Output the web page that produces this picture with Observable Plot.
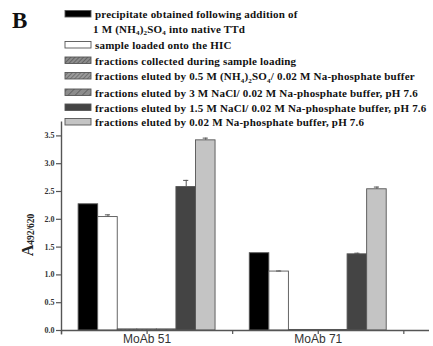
<!DOCTYPE html>
<html>
<head>
<meta charset="utf-8">
<script src="https://cdn.jsdelivr.net/npm/d3@7"></script>
<script src="https://cdn.jsdelivr.net/npm/@observablehq/plot@0.6"></script>
<style>
  html, body { margin: 0; padding: 0; background: #fff; }
  #chart svg { display: block; overflow: visible; }
</style>
</head>
<body>
<div id="chart"></div>
<script>
// ---- data ----
const groups = ["MoAb 51", "MoAb 71"];
const series = [
  "precipitate obtained following addition of 1 M (NH4)2SO4 into native TTd",
  "sample loaded onto the HIC",
  "fractions collected during sample loading",
  "fractions eluted by 0.5 M (NH4)2SO4 / 0.02 M Na-phosphate buffer",
  "fractions eluted by 3 M NaCl/ 0.02 M Na-phosphate buffer, pH 7.6",
  "fractions eluted by 1.5 M NaCl/ 0.02 M Na-phosphate buffer, pH 7.6",
  "fractions eluted by 0.02 M Na-phosphate buffer, pH 7.6"
];
const valuesMoAb51 = [2.27, 2.04, 0.02, 0.02, 0.02, 2.58, 3.42];
const valuesMoAb71 = [1.39, 1.06, 0.01, 0.01, 0.01, 1.37, 2.54];
const errorsMoAb51 = [0, 0.04, 0, 0, 0, 0.12, 0.04];
const errorsMoAb71 = [0, 0.01, 0, 0, 0, 0.02, 0.04];
const yTicks = [0, 0.5, 1.0, 1.5, 2.0, 2.5, 3.0, 3.5];
const xTickPositions = [0, 1, 2, 3, 4];

// ---- styles ----
const seriesFills = ["#000000", "#ffffff", "url(#hatchA)", "url(#hatchB)", "url(#hatchC)", "#444444", "#c4c4c4"];
const serif = "'Liberation Serif', 'DejaVu Serif', serif";

// ---- build table ----
const values = [valuesMoAb51, valuesMoAb71];
const errors = [errorsMoAb51, errorsMoAb71];
const groupWidth = 1.6;
const barW = groupWidth / series.length;
const records = [];
groups.forEach((g, gi) => {
  const center = 1 + 2 * gi;
  series.forEach((s, si) => {
    const x1 = center - groupWidth / 2 + si * barW;
    records.push({group: g, series: s, si, value: values[gi][si], err: errors[gi][si], x1, x2: x1 + barW, xm: x1 + barW / 2});
  });
});
const errRecords = records.filter(d => d.err > 0);

const plot = Plot.plot({
  width: 433,
  height: 346,
  marginLeft: 61,
  marginRight: 4,
  marginTop: 121.5,
  marginBottom: 16,
  style: {fontFamily: serif, background: "#fff", color: "#222"},
  x: {type: "linear", domain: [0, 4.3], axis: null},
  y: {domain: [0, 3.75], axis: null},
  color: {domain: series, range: seriesFills},
  marks: [
    Plot.rectY(records, {x1: "x1", x2: "x2", y1: 0, y2: "value", fill: "series", stroke: "#555", strokeWidth: 0.9}),
    Plot.ruleX(errRecords, {x: "xm", y1: "value", y2: d => d.value + d.err, stroke: "#555", strokeWidth: 1}),
    Plot.ruleY(errRecords, {y: d => d.value + d.err, x1: d => d.xm - 0.03, x2: d => d.xm + 0.03, stroke: "#555", strokeWidth: 1}),
    Plot.ruleY([0], {x1: 0, x2: 4.3, stroke: "#555", strokeWidth: 1.4}),
    Plot.ruleX([0], {y1: -0.08, y2: 3.75, stroke: "#555", strokeWidth: 1.4}),
    Plot.axisY({ticks: yTicks, tickFormat: d => d.toFixed(1), tickSize: 5, tickPadding: 2, label: null,
      fontSize: 8, fontWeight: "bold", fontFamily: serif, stroke: "#555", strokeWidth: 1.2, fill: "#333"}),
    Plot.axisX({ticks: xTickPositions, tickFormat: d => d === 1 ? groups[0] : d === 3 ? groups[1] : "",
      tickSize: 4, tickPadding: 0, label: null, fontSize: 12, fontFamily: "'Liberation Sans', Arial, sans-serif",
      stroke: "#555", strokeWidth: 1.2, fill: "#333"})
  ]
});

document.getElementById("chart").appendChild(plot);

// ---- patterns ----
const svg = d3.select(plot);
const defs = svg.insert("defs", ":first-child");
function hatch(id, spacing, bg, line) {
  const p = defs.append("pattern").attr("id", id).attr("patternUnits", "userSpaceOnUse")
    .attr("width", spacing).attr("height", spacing).attr("patternTransform", "rotate(45)");
  p.append("rect").attr("width", spacing).attr("height", spacing).attr("fill", bg);
  p.append("line").attr("x1", 0).attr("y1", 0).attr("x2", 0).attr("y2", spacing)
    .attr("stroke", line).attr("stroke-width", 1.2);
}
hatch("hatchA", 3, "#8c8c8c", "#4a4a4a");
hatch("hatchB", 3, "#9a9a9a", "#555555");
hatch("hatchC", 5, "#8c8c8c", "#4a4a4a");

// ---- panel letter ----
svg.append("text").attr("x", 12).attr("y", 28).attr("font-family", serif).attr("text-anchor", "start")
  .attr("font-size", 23).attr("font-weight", "bold").attr("fill", "#111").text("B");

// ---- y label ----
const yl = svg.append("text").attr("transform", "translate(33,235) rotate(-90)")
  .attr("text-anchor", "middle").attr("font-family", serif).attr("font-weight", "bold").attr("fill", "#222");
yl.append("tspan").attr("font-size", 16).text("A");
yl.append("tspan").attr("font-size", 9.5).attr("dy", 1).text("492/620");

// ---- legend ----
const legendRows = [
  {si: 0, y: 18, parts: [["precipitate obtained following addition of"]]},
  {si: null, y: 32.5, parts: [["1 M (NH"], ["4", "sub"], [")"], ["2", "sub"], ["SO"], ["4", "sub"], [" into native TTd"]]},
  {si: 1, y: 49, parts: [["sample loaded onto the HIC"]]},
  {si: 2, y: 64.5, parts: [["fractions collected during sample loading"]]},
  {si: 3, y: 80, parts: [["fractions eluted by 0.5 M (NH"], ["4", "sub"], [")"], ["2", "sub"], ["SO"], ["4", "sub"], ["/ 0.02 M Na-phosphate buffer"]]},
  {si: 4, y: 96.5, parts: [["fractions eluted by 3 M NaCl/ 0.02 M Na-phosphate buffer, pH 7.6"]]},
  {si: 5, y: 111.5, parts: [["fractions eluted by 1.5 M NaCl/ 0.02 M Na-phosphate buffer, pH 7.6"]]},
  {si: 6, y: 126, parts: [["fractions eluted by 0.02 M Na-phosphate buffer, pH 7.6"]]}
];
const lg = svg.append("g").attr("text-anchor", "start");
legendRows.forEach(r => {
  if (r.si !== null) {
    lg.append("rect").attr("x", 65).attr("y", r.y - 7.5).attr("width", 26).attr("height", 6.5)
      .attr("fill", seriesFills[r.si]).attr("stroke", "#555").attr("stroke-width", 0.9);
  }
  const t = lg.append("text").attr("x", r.si === null ? 93 : 95).attr("y", r.y).attr("text-anchor", "start")
    .attr("font-family", serif).attr("font-size", 11).attr("letter-spacing", 0.2)
    .attr("font-weight", "bold").attr("fill", "#111");
  let shifted = false;
  r.parts.forEach(([txt, kind]) => {
    const ts = t.append("tspan").text(txt);
    if (kind === "sub") {
      ts.attr("font-size", 7).attr("dy", shifted ? 0 : 2.5);
      shifted = true;
    } else {
      if (shifted) ts.attr("dy", -2.5);
      shifted = false;
    }
  });
});
</script>
</body>
</html>
